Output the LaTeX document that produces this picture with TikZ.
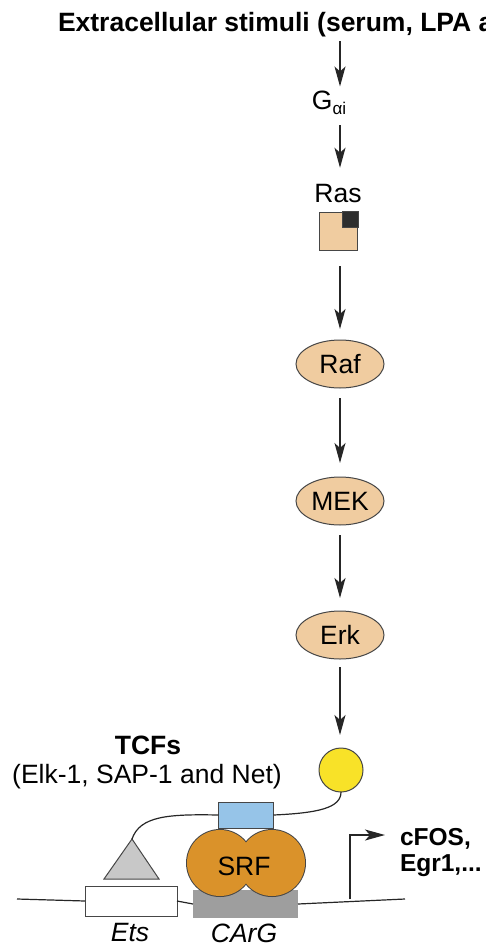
\documentclass[tikz,border=0pt]{standalone}
\usepackage{fontspec}
\setmainfont{Liberation Sans}
\usetikzlibrary{shapes.geometric,arrows.meta}
\definecolor{tan}{RGB}{240,204,160}
\definecolor{edgegray}{RGB}{70,70,70}
\definecolor{srforange}{RGB}{218,146,42}
\definecolor{tcfblue}{RGB}{150,196,232}
\definecolor{ylw}{RGB}{248,226,40}
\definecolor{cargray}{RGB}{158,158,158}
\definecolor{trigray}{RGB}{200,200,200}
\begin{document}
\begin{tikzpicture}[x=1pt,y=-1pt,
  every node/.style={inner sep=0pt,outer sep=0pt},
  txt/.style={font=\fontsize{26.5}{31}\selectfont},
  btxt/.style={font=\fontsize{26.5}{31}\selectfont\bfseries},
  itxt/.style={font=\fontsize{26.5}{31}\selectfont\itshape},
  arr/.style={line width=1.3pt,draw=black!85,-{Stealth[length=20pt,width=11pt,inset=5pt]}},
  kin/.style={ellipse,draw=edgegray,line width=1pt,fill=tan,minimum width=88pt,minimum height=48pt,txt},
  wire/.style={line width=1.2pt,draw=black!85}
]
\useasboundingbox (0,0) rectangle (485,947);

% title
\node[btxt,anchor=base west] (title) at (58,32) {Extracellular stimuli (serum, LPA a};
\coordinate (col) at (340,0);

% G alpha i
\node[txt,anchor=base] (gai) at (329,110) {G\raisebox{-5pt}{\fontsize{17}{17}\selectfont αi}};

% Ras
\node[txt,anchor=base] (raslbl) at (338,202) {Ras};
\node[draw=edgegray,line width=1pt,fill=tan,minimum size=38pt] (ras) at (338,231) {};
\node[draw=edgegray,line width=0.8pt,fill=black!82,minimum size=16pt] (rasp) at (350,219) {};

% kinases
\node[kin] (raf) at (340,364) {Raf};
\node[kin] (mek) at (340,501) {MEK};
\node[kin] (erk) at (340,635) {Erk};
\node[circle,draw=edgegray,line width=1pt,fill=ylw,minimum size=44pt] (yc) at (341,770) {};

% arrows
\draw[arr,shorten <=4pt,shorten >=5pt] (title.south -| col) -- (gai.north -| col);
\draw[arr,shorten <=10pt,shorten >=16pt] (gai.south -| col) -- (raslbl.north -| col);
\draw[arr,shorten <=16pt,shorten >=11pt] (ras.south -| col) -- (raf.north);
\draw[arr,shorten <=10pt,shorten >=14pt] (raf.south) -- (mek.north);
\draw[arr,shorten <=10pt,shorten >=13pt] (mek.south) -- (erk.north);
\draw[arr,shorten <=8pt,shorten >=13pt] (erk.south) -- (erk.south |- yc.north);

% TCF labels
\node[btxt] (tcfs) at (148,745) {TCFs};
\node[txt] (tcfl) at (147,777) {(Elk-1, SAP-1 and Net)};

% DNA
\coordinate (dnal) at (17,899);
\coordinate (dnar) at (405,899);
\node[draw=edgegray,line width=1pt,fill=white,minimum width=92pt,minimum height=30pt] (ets) at (131,901) {};
\node[fill=cargray,minimum width=105pt,minimum height=28pt] (carg) at (245.5,904) {};
\draw[wire] (dnal) -- (ets.west);
\draw[wire] (ets.east) -- (carg.west);
\draw[wire] (carg.east) -- (dnar);

% triangle (Ets-binding domain)
\coordinate (apex) at (132,839);
\draw[edgegray,line width=1pt,fill=trigray] (apex) -- (159,879) -- (104,879) -- cycle;

% SRF dimer
\coordinate (srfl) at (220,863);
\coordinate (srfr) at (272,863);
\draw[edgegray,line width=2pt,fill=srforange] (srfl) circle[radius=33pt];
\draw[edgegray,line width=2pt,fill=srforange] (srfr) circle[radius=33pt];
\fill[srforange] (srfl) circle[radius=33pt];
\fill[srforange] (srfr) circle[radius=33pt];
\node[txt] (srf) at (244,866) {SRF};

% TCF blue box and linkers
\node[draw=edgegray,line width=1pt,fill=tcfblue,minimum width=55pt,minimum height=26pt] (tcf) at (246,815) {};
\draw[wire] (apex) .. controls (140,816) and (168,814) .. (tcf.west);
\draw[wire] (tcf.east) .. controls (318,813) and (341,808) .. (yc.south);

% promoter arrow
\coordinate (tss) at (350,899);
\coordinate (tssup) at (350,835);
\node[font=\fontsize{24.5}{29}\selectfont\bfseries,align=left,anchor=north west] (genes) at (400,828) {cFOS,\\[-3pt]Egr1,...};
\draw[line width=1.2pt,draw=black!85,-{Stealth[length=20pt,width=11pt,inset=5pt]}] (tss) -- (tssup) -- ([xshift=-15pt]tssup -| genes.west);

% element labels
\node[itxt] (etsl) at (130,933) {Ets};
\node[itxt] (cargl) at (244,933) {CArG};
\end{tikzpicture}
\end{document}
